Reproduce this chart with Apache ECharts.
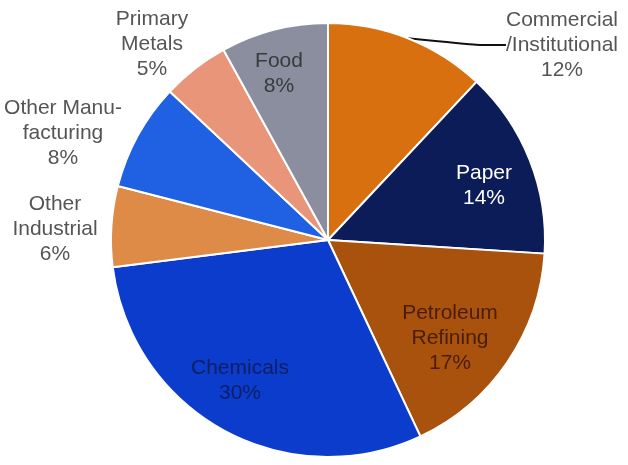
<!DOCTYPE html>
<html>
<head>
<meta charset="utf-8">
<script src="https://cdn.jsdelivr.net/npm/echarts@6/dist/echarts.min.js"></script>
<style>
  html, body { margin: 0; padding: 0; background: #ffffff; }
  #chart { width: 628px; height: 465px; }
</style>
</head>
<body>
<div id="chart"></div>
<script>
// Sectors listed clockwise starting from 12 o'clock
const categories = ['Commercial/Institutional', 'Paper', 'Petroleum Refining', 'Chemicals',
  'Other Industrial', 'Other Manufacturing', 'Primary Metals', 'Food'];
const shares = [12, 14, 17, 30, 6, 8, 5, 8];
const labelNames = ['Commercial\n/Institutional', 'Paper', 'Petroleum\nRefining', 'Chemicals',
  'Other\nIndustrial', 'Other Manu-\nfacturing', 'Primary\nMetals', 'Food'];

const sliceColors = ['#D8700F', '#0B1C58', '#A8520E', '#0B3CCB', '#DE8B48', '#1F61E2', '#E8957A', '#8A8E9F'];
const textColors = ['#555555', '#ffffff', '#4a1d02', '#0c1f66', '#555555', '#555555', '#555555', '#3a3a3a'];

// Where each label block is centred (pixels in the chart)
const labelSpots = [
  [562, 45], [484, 186], [450, 338], [240, 381],
  [55, 229], [63, 133], [152, 44], [279, 74]
];

const chart = echarts.init(document.getElementById('chart'), null, { renderer: 'canvas' });

const data = categories.map((name, i) => ({
  name: name,
  value: shares[i],
  itemStyle: { color: sliceColors[i] },
  label: { color: textColors[i] },
  labelLine: { show: i === 0 }
}));

chart.setOption({
  animation: false,
  backgroundColor: '#ffffff',
  series: [{
    type: 'pie',
    center: [328, 240],
    radius: [0, 217],
    startAngle: 90,
    clockwise: true,
    avoidLabelOverlap: false,
    data: data,
    itemStyle: { borderColor: '#ffffff', borderWidth: 2 },
    label: {
      show: true,
      position: 'outside',
      fontFamily: 'Liberation Sans, Arial, sans-serif',
      fontSize: 21,
      lineHeight: 25,
      align: 'center',
      formatter: p => labelNames[p.dataIndex] + '\n' + p.value + '%'
    },
    labelLine: {
      show: true,
      length: 20,
      length2: 30,
      smooth: 0.2,
      lineStyle: { color: '#111111', width: 2 }
    },
    labelLayout: p => ({
      x: labelSpots[p.dataIndex][0],
      y: labelSpots[p.dataIndex][1],
      align: 'center',
      verticalAlign: 'middle'
    })
  }]
});
</script>
</body>
</html>
